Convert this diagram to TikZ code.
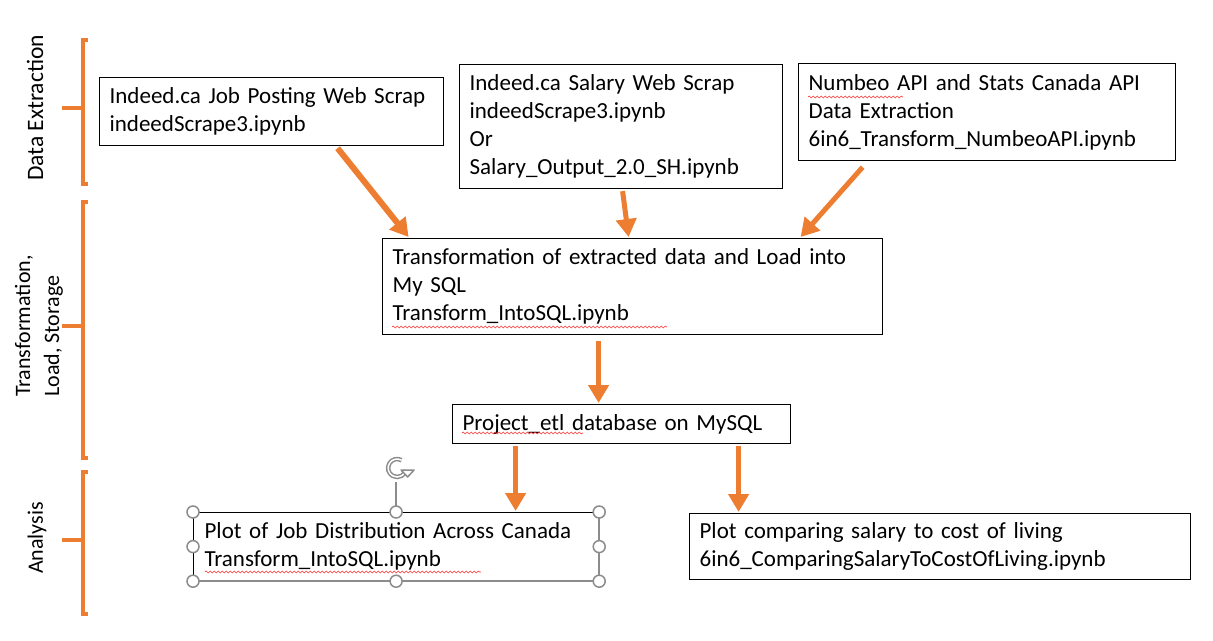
\documentclass[tikz,border=0pt]{standalone}
\usepackage{fontspec}
\setmainfont{Carlito}
\usetikzlibrary{arrows.meta,decorations.pathmorphing,calc}
\definecolor{offorange}{HTML}{ED7D31}
\definecolor{handlegray}{HTML}{8C8C8C}
\begin{document}
\begin{tikzpicture}[x=1pt,y=-1pt,
  font=\fontsize{23}{28}\selectfont,
  box/.style={draw=black,line width=1.2pt,anchor=north west,align=left,inner xsep=10pt,inner ysep=2pt},
  arr/.style={draw=offorange,line width=5pt,-{Triangle[length=18pt,width=20pt]}},
  brk/.style={draw=offorange,line width=3.5pt},
  sect/.style={rotate=90,align=left,font=\fontsize{23.5}{30}\selectfont},
  handle/.style={circle,draw=handlegray,fill=white,line width=1.5pt,minimum size=12pt,inner sep=0pt},
  squig/.style={draw=red!80,line width=0.6pt,decorate,decoration={snake,segment length=4pt,amplitude=1pt}}]
\useasboundingbox (0,0) rectangle (1213,640);

% section brackets
\draw[brk] (88,40) -- (83,40) -- (83,184) -- (88,184);
\draw[brk] (62,108) -- (83,108);
\draw[brk] (88,202) -- (83,202) -- (83,458) -- (88,458);
\draw[brk] (62,326) -- (83,326);
\draw[brk] (88,472) -- (83,472) -- (83,614) -- (88,614);
\draw[brk] (62,540) -- (83,540);
\node[sect] (s1) at (35,108) {Data Extraction};
\node[sect,font=\fontsize{22}{29}\selectfont] (s2) at (39,326) {Transformation,\\Load, Storage};
\node[sect,font=\fontsize{22}{30}\selectfont] (s3) at (37,538) {Analysis};

% boxes
\node[box,minimum width=344pt,minimum height=68pt,text width=324pt] (A) at (99,77)
  {Indeed.ca Job Posting Web Scrap\\indeedScrape3.ipynb};
\node[box,minimum width=323pt,minimum height=124pt,text width=303pt] (B) at (459,64)
  {Indeed.ca Salary Web Scrap\\indeedScrape3.ipynb\\Or\\Salary\_Output\_2.0\_SH.ipynb};
\node[box,minimum width=377pt,minimum height=97pt,text width=357pt] (C) at (798,63)
  {Numbeo API and Stats Canada API\\Data Extraction\\6in6\_Transform\_NumbeoAPI.ipynb};
\node[box,minimum width=500pt,minimum height=96pt,text width=480pt] (D) at (382,238)
  {Transformation of extracted data and Load into\\My SQL\\Transform\_IntoSQL.ipynb};
\node[box,minimum width=338pt,minimum height=39pt,text width=318pt] (E) at (452,404)
  {Project\_etl database on MySQL};
\node[box,minimum width=405pt,minimum height=68pt,text width=383pt,inner xsep=11pt] (F) at (193,512)
  {Plot of Job Distribution Across Canada\\Transform\_IntoSQL.ipynb};
\node[box,minimum width=501pt,minimum height=66pt,text width=481pt] (G) at (689,513)
  {Plot comparing salary to cost of living\\6in6\_ComparingSalaryToCostOfLiving.ipynb};

% arrows
\draw[arr,line width=6pt] ([xshift=66pt,yshift=-2pt]A.south) -- ([xshift=-224pt,yshift=1pt]D.north);
\draw[arr] ([xshift=1.5pt,yshift=-2pt]B.south) -- ([xshift=-4pt,yshift=1pt]D.north);
\draw[arr] ([xshift=-124.5pt,yshift=-6pt]C.south) -- ([xshift=168pt,yshift=1pt]D.north);
\draw[arr] ([xshift=-34pt,yshift=-6pt]D.south) -- ([xshift=-23pt,yshift=1pt]E.north);
\draw[arr] ([xshift=-106pt,yshift=-2pt]E.south) -- ([xshift=119.5pt,yshift=1pt]F.north);
\draw[arr] ([xshift=117pt,yshift=-2pt]E.south) -- ([xshift=-201.5pt,yshift=1pt]G.north);

% spell-check squiggles
\draw[squig] (808,97) -- (903,97);
\draw[squig] (392,327) -- (667,327);
\draw[squig] (462,433) -- (583,433);
\draw[squig] (205,572) -- (481,572);

% selection frame and handles on F
\draw[handlegray,line width=1.5pt] (F.north east) -- (F.south east) -- (F.south west);
\draw[handlegray,line width=1.5pt] (F.north) -- ++(0,-30);
\foreach \p in {north west,north,north east,west,east,south west,south,south east}
  \node[handle] at (F.\p) {};
\coordinate (rot) at ($(F.north)+(1,-44)$);
\draw[handlegray,line width=4.5pt] (rot) ++(-60:9) arc[start angle=-60,end angle=-345,radius=9];
\draw[white,line width=1.5pt] (rot) ++(-60:9) arc[start angle=-60,end angle=-345,radius=9];
\draw[handlegray,line width=1.5pt,fill=white,line join=round] ($(rot)+(4,2)$) -- ++(13,0) -- ++(-6.5,7) -- cycle;
\end{tikzpicture}
\end{document}
